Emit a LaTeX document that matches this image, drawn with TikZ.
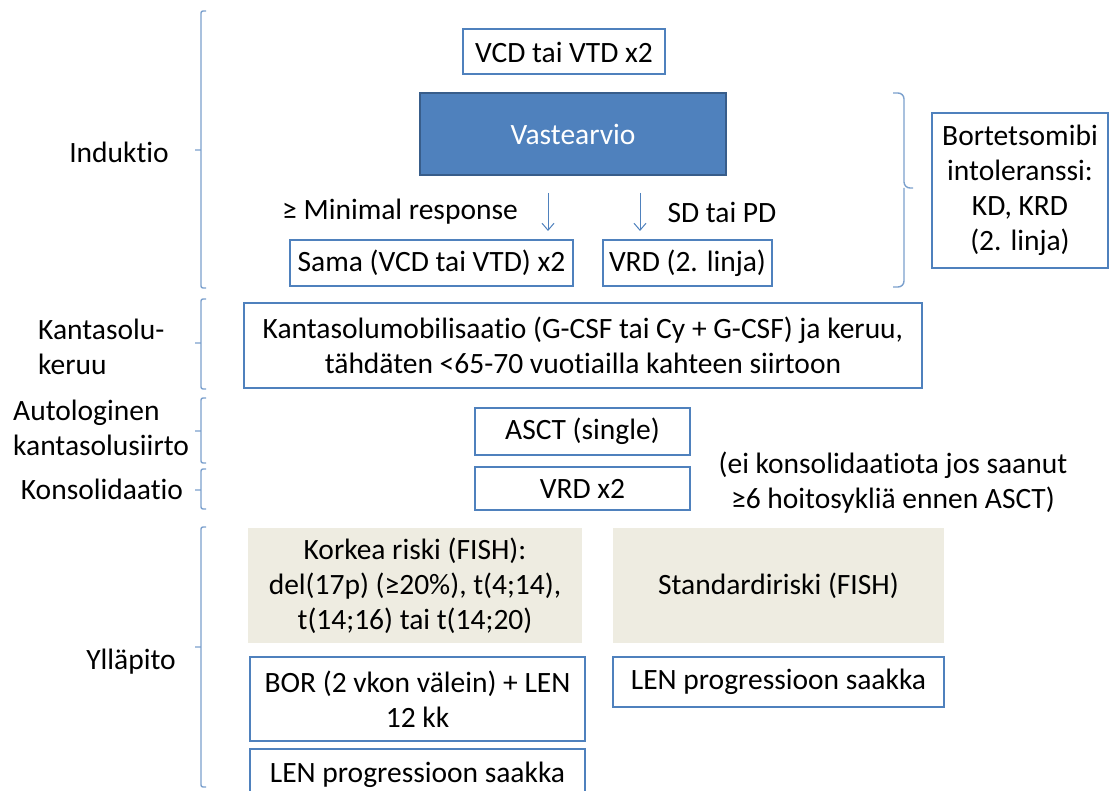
\documentclass[tikz,border=0pt]{standalone}
\usepackage{fontspec}
\setmainfont[Ligatures=CommonOff]{Carlito}
\usetikzlibrary{arrows.meta}

\definecolor{ofblue}{HTML}{4F81BD}
\definecolor{ofdark}{HTML}{385D8A}
\definecolor{ofbeige}{HTML}{EEECE1}

\begin{document}
\begin{tikzpicture}[x=1pt, y=-1pt,
        every node/.style={font=\fontsize{29.5}{35}\selectfont, inner sep=2pt},
        box/.style={draw=ofblue, line width=2pt, align=center},
        riski/.style={fill=ofbeige, align=center},
        lbl/.style={align=center},
        arr/.style={-{Straight Barb[length=7pt, width=12pt]}, draw=ofblue, line width=1pt},
        brc/.style={draw=ofblue!75, line width=1.4pt, rounded corners=2pt}
      ]
        \useasboundingbox (0,0) rectangle (1110,791);
        \clip (0,0) rectangle (1110,791);
        % induktio
        \node[box, minimum width=202pt, minimum height=45pt] (a) at (564,52) {VCD tai VTD x2};
        \node[draw=ofdark, line width=2pt, fill=ofblue, text=white,
          minimum width=306pt, minimum height=82pt] (b) at (573,134) {Vastearvio};
        \node[box, minimum width=283pt, minimum height=46pt] (c) at (431.5,263) {Sama (VCD tai VTD) x2};
        \node[box, minimum width=169pt, minimum height=46pt] (d) at (687.5,263) {VRD (2. linja)};
        \node[lbl] (mr) at (400,212) {≥ Minimal response};
        \node[lbl] (sd) at (722,212) {SD tai PD};
        \coordinate (c1) at (548,193);
        \coordinate (c2) at (548,231);
        \coordinate (d1) at (640,193);
        \coordinate (d2) at (640,231);
        \draw[arr] (c1) -- (c2);
        \draw[arr] (d1) -- (d2);
        \node[box, minimum width=176pt, minimum height=155pt] (e) at (1020,190.5)
          {Bortetsomibi\\intoleranssi:\\KD, KRD\\(2. linja)};
        % kantasolut, ASCT, konsolidaatio
        \node[box, minimum width=678pt, minimum height=85pt] (f) at (583,345.5)
          {Kantasolumobilisaatio (G-CSF tai Cy + G-CSF) ja keruu,\\tähdäten <65-70 vuotiailla kahteen siirtoon};
        \node[box, minimum width=215pt, minimum height=47pt] (g) at (582.5,431.5) {ASCT (single)};
        \node[box, minimum width=215pt, minimum height=43pt] (h) at (582.5,488.5) {VRD x2};
        \node[lbl] (note) at (893,483) {(ei konsolidaatiota jos saanut\\≥6 hoitosykliä ennen ASCT)};
        % ylläpito
        \node[riski, minimum width=334pt, minimum height=115pt] (i) at (415,585.5)
          {Korkea riski (FISH):\\del(17p) (≥20\%), t(4;14),\\t(14;16) tai t(14;20)};
        \node[riski, minimum width=331pt, minimum height=115pt] (j) at (778.5,585.5) {Standardiriski (FISH)};
        \node[box, minimum width=335pt, minimum height=84pt] (k) at (417.5,699) {BOR (2 vkon välein) + LEN\\12 kk};
        \node[box, minimum width=331pt, minimum height=50pt] (l) at (778.5,682) {LEN progressioon saakka};
        \node[box, minimum width=335pt, minimum height=52pt, anchor=north] (m) at (417.5,748) {LEN progressioon saakka};
        % vaiheet
        \node[lbl] (p1) at (119,152) {Induktio};
        \node[lbl, align=left, anchor=west] (p2) at (36,347) {Kantasolu-\\keruu};
        \node[lbl, align=left, anchor=west] (p3) at (11,428) {Autologinen\\kantasolusiirto};
        \node[lbl] (p4) at (102,489) {Konsolidaatio};
        \node[lbl] (p5) at (131,662) {Ylläpito};
        \draw[brc] (206,11) -- (201,11) -- (201,288) -- (206,288) (201,150) -- (195,150);
        \draw[brc] (206,299) -- (201,299) -- (201,389) -- (206,389) (201,343) -- (195,343);
        \draw[brc] (206,398) -- (201,398) -- (201,463) -- (206,463) (201,431) -- (195,431);
        \draw[brc] (206,469) -- (201,469) -- (201,509) -- (206,509) (201,490) -- (195,490);
        \draw[brc] (206,527) -- (201,527) -- (201,787) -- (206,787) (201,647) -- (195,647);
        \draw[brc, rounded corners=6pt] (893,93) -- (904,93) -- (904,188) -- (913,188)
          (904,188) -- (904,287) -- (893,287);
      \end{tikzpicture}
\end{document}
